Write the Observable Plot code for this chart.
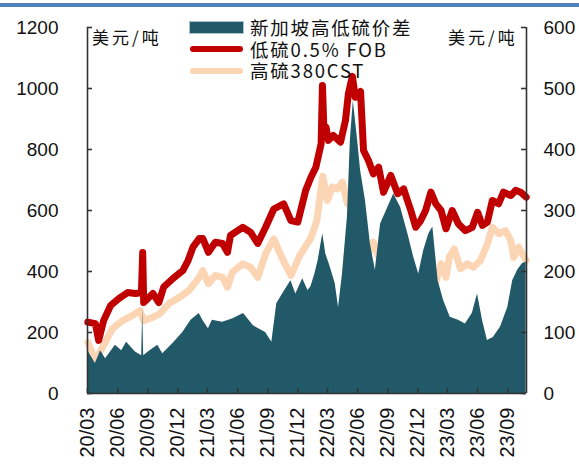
<!DOCTYPE html>
<html><head><meta charset="utf-8">
<script src="https://cdn.jsdelivr.net/npm/d3@7"></script>
<script src="https://cdn.jsdelivr.net/npm/@observablehq/plot@0.6"></script>
<style>
body{margin:0;background:#fff;}
#wrap{position:relative;width:579px;height:468px;overflow:hidden;}
#wrap svg{position:absolute;left:0;top:0;}
#bar{position:absolute;left:0;top:3px;width:579px;height:4px;background:#4f81bd;}
.unit{position:absolute;font-family:"Noto Sans CJK SC",sans-serif;font-size:17px;letter-spacing:3px;color:#111;line-height:20px;white-space:nowrap;}
.lg{position:absolute;left:250px;font-family:"Noto Sans CJK SC",sans-serif;font-size:18.5px;letter-spacing:1.8px;color:#111;line-height:20px;white-space:nowrap;}
.sw{position:absolute;left:190px;width:53px;}
</style>
</head><body>
<div id="wrap">
  <div id="bar"></div>
</div>
<script>
// Series: 低硫0.5% FOB (left axis, 美元/吨)
const lsDates = ["2020-03-02","2020-03-25","2020-04-04","2020-04-19","2020-05-10","2020-06-04","2020-07-01","2020-07-25","2020-08-12","2020-08-16","2020-08-19","2020-09-16","2020-10-04","2020-10-19","2020-11-16","2020-12-16","2021-01-01","2021-01-16","2021-02-04","2021-02-15","2021-03-04","2021-03-25","2021-04-16","2021-05-01","2021-05-10","2021-06-16","2021-07-10","2021-08-01","2021-08-25","2021-09-19","2021-10-19","2021-11-10","2021-12-01","2021-12-25","2022-01-10","2022-01-25","2022-02-10","2022-02-14","2022-02-18","2022-02-25","2022-03-04","2022-03-19","2022-04-10","2022-04-25","2022-05-04","2022-05-16","2022-05-25","2022-06-10","2022-06-19","2022-07-04","2022-07-19","2022-08-04","2022-08-19","2022-09-10","2022-10-01","2022-10-19","2022-11-10","2022-11-25","2022-12-10","2022-12-25","2023-01-10","2023-01-25","2023-02-10","2023-02-25","2023-03-16","2023-04-04","2023-04-25","2023-05-16","2023-06-01","2023-06-16","2023-07-01","2023-07-16","2023-08-04","2023-08-19","2023-09-10","2023-09-25","2023-10-10","2023-10-27"];
const lsValues = [234,229,174,239,288,311,331,328,330,462,298,328,298,349,377,403,436,480,508,508,463,496,492,463,518,545,529,492,545,605,622,567,562,666,709,742,819,1010,880,873,830,846,824,895,983,1040,971,990,797,764,720,742,660,715,655,671,600,545,567,600,660,622,600,540,600,556,534,545,594,551,562,633,622,660,649,666,660,644];

// Series: 高硫380CST (left axis, 美元/吨)
const hsDates = ["2020-03-02","2020-03-25","2020-04-16","2020-05-16","2020-06-16","2020-07-16","2020-08-07","2020-08-19","2020-09-16","2020-10-07","2020-11-04","2020-12-07","2021-01-04","2021-02-04","2021-02-15","2021-03-04","2021-03-25","2021-04-16","2021-05-01","2021-05-16","2021-06-16","2021-07-10","2021-08-01","2021-08-25","2021-09-19","2021-10-13","2021-11-10","2021-12-07","2022-01-10","2022-01-28","2022-02-15","2022-03-01","2022-03-16","2022-04-01","2022-04-16","2022-05-01","2022-05-19","2022-06-04","2022-06-19","2022-07-04","2022-07-19","2022-08-04","2022-08-25","2022-09-10","2022-10-01","2022-10-19","2022-11-04","2022-11-25","2022-12-10","2022-12-25","2023-01-10","2023-01-25","2023-02-10","2023-02-25","2023-03-07","2023-03-22","2023-04-10","2023-05-01","2023-05-19","2023-06-10","2023-07-01","2023-07-16","2023-08-04","2023-08-25","2023-09-10","2023-09-19","2023-10-04","2023-10-27"];
const hsValues = [168,108,152,213,239,256,272,239,250,262,295,316,338,381,403,360,387,381,349,398,425,414,381,458,507,447,387,452,510,567,712,633,677,671,693,622,611,578,502,458,496,447,392,370,392,409,365,343,349,381,392,365,425,381,447,474,409,425,414,436,491,545,524,534,502,447,480,436];

// Series: 新加坡高低硫价差 (right axis, 美元/吨)
const spDates = ["2020-03-02","2020-03-25","2020-04-10","2020-04-25","2020-05-25","2020-06-13","2020-06-28","2020-07-25","2020-08-13","2020-08-16","2020-08-19","2020-09-07","2020-10-01","2020-10-16","2020-11-16","2020-12-16","2021-01-10","2021-02-04","2021-02-15","2021-03-04","2021-03-16","2021-04-16","2021-05-16","2021-06-19","2021-07-19","2021-08-25","2021-09-13","2021-09-28","2021-10-19","2021-11-10","2021-11-25","2021-12-16","2022-01-01","2022-01-10","2022-01-22","2022-02-01","2022-02-15","2022-02-24","2022-03-10","2022-03-25","2022-04-04","2022-04-16","2022-05-01","2022-05-10","2022-05-19","2022-06-01","2022-06-10","2022-06-25","2022-07-10","2022-07-25","2022-08-10","2022-09-01","2022-09-19","2022-10-10","2022-11-01","2022-11-19","2022-12-04","2022-12-19","2023-01-04","2023-01-16","2023-02-01","2023-02-18","2023-03-10","2023-04-04","2023-04-25","2023-05-16","2023-06-01","2023-06-16","2023-07-01","2023-07-19","2023-08-10","2023-09-01","2023-09-16","2023-10-01","2023-10-16","2023-10-27"];
const spValues = [70,49,70,57,79,70,84,68,62,139,62,70,79,65,82,100,120,131,120,106,120,117,122,131,111,100,84,147,166,185,163,188,169,175,196,218,262,229,207,180,141,196,289,415,480,415,366,316,245,202,278,305,327,305,262,223,196,234,262,273,185,152,125,120,114,131,163,120,87,92,109,141,185,202,213,215];

// Axes
const leftTicks = [0,200,400,600,800,1000,1200];
const xTickDates = ["2020-03-01","2020-06-01","2020-09-01","2020-12-01","2021-03-01","2021-06-01","2021-09-01","2021-12-01","2022-03-01","2022-06-01","2022-09-01","2022-12-01","2023-03-01","2023-06-01","2023-09-01"];
const xDomain = ["2020-03-01","2023-10-28"];
const seriesNames = ["新加坡高低硫价差","低硫0.5% FOB","高硫380CST"];
const unitLabel = "美元/吨";
const colors = ["#215968","#c00000","#fcd5b4"];

const toRows = (ds, vs) => ds.map((d,i) => ({date: new Date(d), value: vs[i]}));
const ls = toRows(lsDates, lsValues);
const hs = toRows(hsDates, hsValues);
const sp = toRows(spDates, spValues);
const ticksX = xTickDates.map(d => new Date(d));
const dom = xDomain.map(d => new Date(d));

const W=579,H=468,ML=87,MR=53,MT=27,MB=75;
const pw=W-ML-MR, ph=H-MT-MB;
const axisColor = "#333";

const chart = Plot.plot({
  width: W, height: H, marginLeft: ML, marginRight: MR, marginTop: MT, marginBottom: MB,
  style: {fontFamily: '"Liberation Sans", Arial, sans-serif', fontSize: "19px", color: "#111", background: "transparent", overflow: "visible"},
  x: {type: "utc", domain: dom},
  y: {domain: [0, 1200]},
  marks: [
    Plot.line(hs, {x: "date", y: "value", stroke: colors[2], strokeWidth: 7, strokeLinejoin: "round", strokeLinecap: "round"}),
    Plot.line(ls, {x: "date", y: "value", stroke: colors[1], strokeWidth: 7, strokeLinejoin: "round", strokeLinecap: "round"}),
    Plot.areaY(sp, {x: "date", y: d => d.value * 2, fill: colors[0]}),
    Plot.ruleX([dom[0]], {stroke: axisColor, strokeWidth: 1.6}),
    Plot.ruleX([dom[1]], {stroke: axisColor, strokeWidth: 1.6}),
    Plot.ruleY([0], {stroke: axisColor, strokeWidth: 1.6}),
    Plot.ruleY(leftTicks, {y: d => d, insetRight: pw - 5, stroke: axisColor, strokeWidth: 1.6}),
    Plot.ruleY(leftTicks, {y: d => d, insetLeft: pw - 5, stroke: axisColor, strokeWidth: 1.6}),
    Plot.ruleX(ticksX, {x: d => d, insetTop: ph - 5, stroke: axisColor, strokeWidth: 1.6}),
    Plot.axisY({anchor: "left", ticks: leftTicks, tickSize: 0, tickPadding: 29, tickFormat: d => String(d), label: null, fontSize: 19}),
    Plot.axisY({anchor: "right", ticks: leftTicks, tickSize: 0, tickPadding: 17, tickFormat: d => String(d / 2), label: null, fontSize: 19}),
    Plot.axisX({ticks: ticksX, tickFormat: d3.utcFormat("%y/%m"), tickRotate: -90, tickSize: 0, tickPadding: 14, label: null, fontSize: 20})
  ]
});

const wrap = document.getElementById("wrap");
wrap.insertBefore(chart, wrap.firstChild);

function addDiv(cls, css, text) {
  const d = document.createElement("div");
  d.className = cls;
  Object.assign(d.style, css);
  if (text != null) d.textContent = text;
  wrap.appendChild(d);
  return d;
}
// unit labels
addDiv("unit", {left: "92px", top: "27px"}, unitLabel);
addDiv("unit", {left: "448px", top: "27px"}, unitLabel);
// legend
addDiv("sw", {top: "22px", height: "11px", background: colors[0], boxShadow: "0 0 0 1px #a9c4d0"});
addDiv("sw", {top: "46px", height: "6px", borderRadius: "3px", background: colors[1]});
addDiv("sw", {top: "68px", height: "6px", borderRadius: "3px", background: colors[2]});
addDiv("lg", {top: "17px"}, seriesNames[0]);
addDiv("lg", {top: "39px"}, seriesNames[1]);
addDiv("lg", {top: "60px"}, seriesNames[2]);
</script>
</body></html>
